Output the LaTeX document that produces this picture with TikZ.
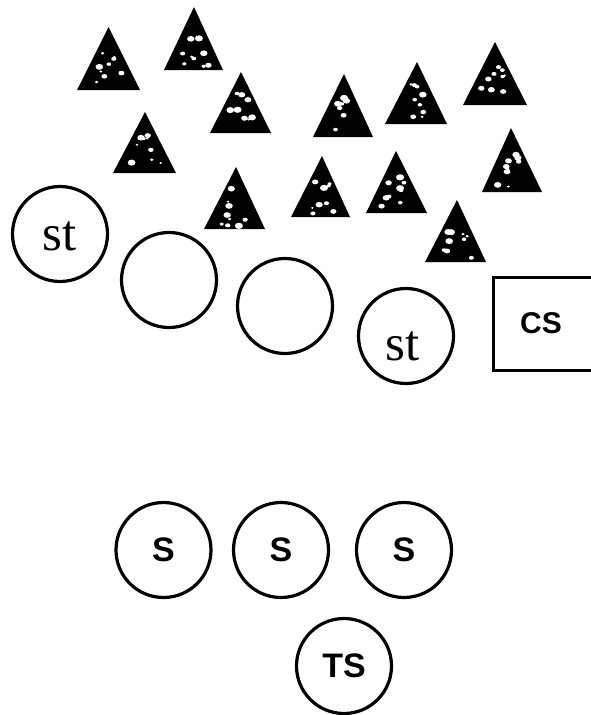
\documentclass[tikz,border=0pt]{standalone}
\usepackage{fontspec}
\setmainfont{Liberation Serif}
\newfontfamily\labsans{Liberation Sans}
\tikzset{
  ring/.style={circle, draw=black, line width=3.2pt, minimum size=95pt, inner sep=0pt},
  stlabel/.style={font=\fontsize{51}{51}\selectfont},
  slabel/.style={font=\labsans\bfseries\fontsize{34}{34}\selectfont},
  boxnode/.style={draw=black, line width=3.2pt, inner sep=0pt},
}
% apex x, apex y, base y, base left x, base right x
\newcommand{\spiketri}[5]{%
  \fill[black] (#1,#2) -- (#5,#3) -- (#4,#3) -- cycle;
  \foreach \k in {1,...,9}{%
    \pgfmathsetmacro{\tt}{0.35+0.6*rnd}%
    \pgfmathsetmacro{\uu}{-0.6+1.2*rnd}%
    \pgfmathsetmacro{\yy}{#2+\tt*(#3-#2)}%
    \pgfmathsetmacro{\xx}{#1+\uu*\tt*((#5)-(#4))/2}%
    \pgfmathsetmacro{\rr}{1.0+2.2*rnd}%
    \fill[white] (\xx,\yy) ellipse ({\rr*1.3} and \rr);
  }%
}
\begin{document}
\begin{tikzpicture}[x=1pt,y=-1pt]
\useasboundingbox (0,0) rectangle (591,715);
\pgfmathsetseed{7}
% triangles
\spiketri{108.6}{27}{90}{77}{140}
\spiketri{194}{7}{70}{164}{223}
\spiketri{241}{72}{133}{210}{271}
\spiketri{145}{112}{173}{113}{176}
\spiketri{344}{74}{137}{313}{373}
\spiketri{417}{62}{124}{385}{447}
\spiketri{495}{42}{105}{463}{527}
\spiketri{236}{167}{229}{204}{265}
\spiketri{322}{156}{217}{291}{350}
\spiketri{396}{151}{213}{366}{427}
\spiketri{511}{128}{192}{482}{542}
\spiketri{457}{200}{262}{425}{486}
% upper circles
\node[ring] (st1) at (60,234) {};
\node[stlabel] (st1t) at (60,236) {st};
\node[ring] (c2) at (169,280) {};
\node[ring] (c3) at (285,306) {};
\node[ring] (st4) at (406,336) {};
\node[stlabel] (st4t) at (403,346) {st};
% CS box
\node[boxnode, minimum width=101pt, minimum height=93pt] (cs) at (544,324) {};
\node[slabel, font=\labsans\bfseries\fontsize{30}{30}\selectfont] (cst) at (541,323) {CS};
% lower circles
\node[ring, slabel] (s1) at (163.5,550) {S};
\node[ring, slabel] (s2) at (281,550) {S};
\node[ring, slabel] (s3) at (404,550) {S};
\node[ring, slabel] (ts) at (344,666) {TS};
\end{tikzpicture}
\end{document}
